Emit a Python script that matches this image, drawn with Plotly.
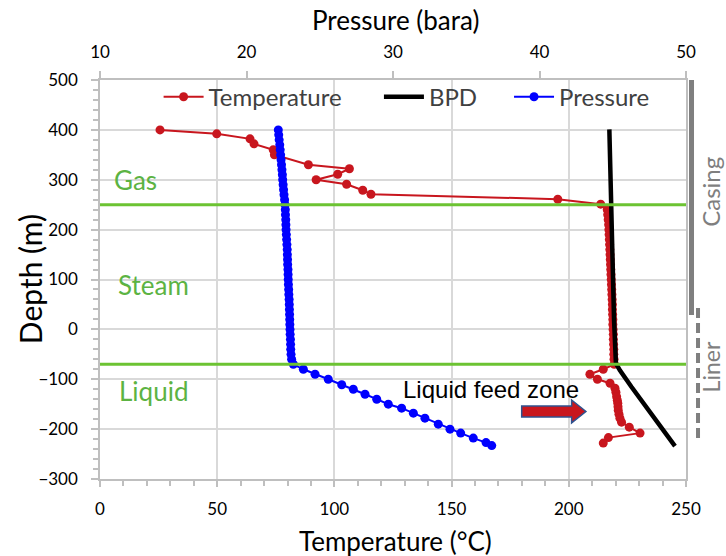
import plotly.graph_objects as go

# ---------------- data ----------------
temp_depth = [400, 392, 382, 372, 360, 350, 330, 322, 311, 300, 291, 279, 271, 261, 251,
              240, 230, 220, 210, 200, 190, 180, 170, 160, 150, 140, 130, 120, 110, 100,
              90, 80, 70, 60, 50, 40, 30, 20, 10, 0, -10, -20, -30, -40, -50, -60, -70,
              -80, -90, -100, -108, -118, -126, -135, -142, -148, -155, -162, -170, -178,
              -186, -196, -208, -217, -228]
temp_c = [25.6, 49.8, 64.0, 65.7, 73.9, 74.4, 88.9, 106.4, 101.4, 92.2, 105.2, 112.1, 115.6, 195.3, 213.6,
          216.4, 216.6, 216.8, 217.0, 217.1, 217.2, 217.3, 217.4, 217.5, 217.6, 217.7, 217.8, 217.9, 218.0, 218.1,
          218.2, 218.3, 218.4, 218.5, 218.6, 218.6, 218.7, 218.8, 218.8, 218.9, 219.0, 219.0, 219.1, 219.2, 219.2,
          219.3, 219.4,
          214.7, 209.0, 212.2, 217.6, 219.7, 220.1, 220.4, 220.7, 220.9, 221.0, 221.1, 221.4, 221.8,
          222.5, 225.8, 230.4, 216.9, 214.7]

bpd_depth = [401, 360, 320, 253, 119, 19, -68, -82, -115, -148, -190, -234]
bpd_c = [217.3, 217.5, 217.8, 218.3, 218.7, 219.3, 220.1, 221.8, 226.7, 231.8, 238.5, 245.3]

pres_depth = [400, 390, 380, 370, 360, 350, 340, 330, 320, 310, 300, 290, 280, 270, 260, 250,
              240, 230, 220, 210, 200, 190, 180, 170, 160, 150, 140, 130, 120, 110, 100,
              90, 80, 70, 60, 50, 40, 30, 20, 10, 0, -10, -20, -30, -40, -50, -60, -70,
              -80, -90, -100, -111, -120, -130, -140, -150, -158, -168, -178, -190, -200,
              -208, -218, -227, -233]
pres_bara = [22.17, 22.20, 22.23, 22.27, 22.30, 22.33, 22.36, 22.39, 22.42, 22.45, 22.47, 22.50, 22.53,
             22.56, 22.60, 22.63, 22.65, 22.66, 22.68, 22.69, 22.70, 22.72, 22.74, 22.76, 22.78, 22.79,
             22.80, 22.81, 22.83, 22.84, 22.85, 22.86, 22.88, 22.89, 22.91, 22.92, 22.93, 22.94, 22.95,
             22.96, 22.97, 22.98, 23.00, 23.01, 23.02, 23.04, 23.08, 23.20,
             23.88, 24.68, 25.58, 26.50, 27.29, 28.09, 28.89, 29.68, 30.59, 31.39, 32.18, 33.09, 33.89,
             34.62, 35.48, 36.35, 36.74]

zone_boundaries = [250, -70]
zone_names = ["Gas", "Steam", "Liquid"]
zone_label_depth = [299, 88, -124]
zone_label_temp = [5.0, 7.0, 7.4]

casing_depth = [500, 29]
liner_depth = [43, -226]

temp_ticks = [0, 50, 100, 150, 200, 250]
pres_ticks = [10, 20, 30, 40, 50]
depth_ticks = [-300, -200, -100, 0, 100, 200, 300, 400, 500]

# ---------------- styling ----------------
RED = "#C8161E"
BLUE = "#0000FF"
GREEN_LINE = "#6CC332"
GREEN_TXT = "#5CB343"
GRID = "#D9D9D9"
AXIS = "#BFBFBF"
GRAY = "#7F7F7F"
FONT = "Lato"

fig = go.Figure()

fig.add_trace(go.Scatter(
    x=temp_c, y=temp_depth, name="Temperature", mode="lines+markers",
    line=dict(color=RED, width=2), marker=dict(color=RED, size=9),
    xaxis="x", yaxis="y", legend="legend"))
fig.add_trace(go.Scatter(
    x=bpd_c, y=bpd_depth, name="BPD", mode="lines",
    line=dict(color="black", width=4.5),
    xaxis="x", yaxis="y", legend="legend2"))
fig.add_trace(go.Scatter(
    x=pres_bara, y=pres_depth, name="Pressure", mode="lines+markers",
    line=dict(color=BLUE, width=2), marker=dict(color=BLUE, size=9),
    xaxis="x2", yaxis="y", legend="legend3"))

shapes = []
# white backdrop behind the legend (hides gridlines there, like the original)
shapes.append(dict(type="rect", xref="paper", yref="paper", x0=0.09, x1=0.96,
                   y0=0.93, y1=0.994, fillcolor="white", line=dict(width=0),
                   layer="between"))
for b in zone_boundaries:
    shapes.append(dict(type="line", xref="paper", yref="y", x0=0, x1=1, y0=b, y1=b,
                       line=dict(color=GREEN_LINE, width=3), layer="above"))
# casing (solid) and liner (dashed) bars
shapes.append(dict(type="line", xref="paper", yref="y", x0=1.0094, x1=1.0094,
                   y0=casing_depth[0], y1=casing_depth[1], line=dict(color=GRAY, width=5)))
shapes.append(dict(type="line", xref="paper", yref="y", x0=1.0205, x1=1.0205,
                   y0=liner_depth[0], y1=liner_depth[1],
                   line=dict(color=GRAY, width=4, dash="10px,5px")))
# feed zone arrow
shapes.append(dict(type="path", xref="x", yref="y",
                   path="M 179.9,-153.6 L 201.2,-153.6 L 201.2,-141.6 L 207.3,-164.6 "
                        "L 201.2,-187.6 L 201.2,-175.7 L 179.9,-175.7 Z",
                   fillcolor="#C8161D", line=dict(color="#2F528F", width=1.5), layer="above"))

annotations = []
for name, d, t in zip(zone_names, zone_label_depth, zone_label_temp):
    annotations.append(dict(text=name, x=t, y=d, xref="x", yref="y", xanchor="left",
                            yanchor="middle", showarrow=False,
                            font=dict(family=FONT, size=26, color=GREEN_TXT)))
annotations.append(dict(text="Liquid feed zone", x=166.8, y=-120, xref="x", yref="y",
                        showarrow=False, xanchor="center", yanchor="middle",
                        font=dict(family="Liberation Sans", size=24, color="black")))
annotations.append(dict(text="Casing", x=1.042, y=275, xref="paper", yref="y",
                        textangle=-90, showarrow=False, xanchor="center", yanchor="middle",
                        font=dict(family=FONT, size=24, color=GRAY)))
annotations.append(dict(text="Liner", x=1.042, y=-75, xref="paper", yref="y",
                        textangle=-90, showarrow=False, xanchor="center", yanchor="middle",
                        font=dict(family=FONT, size=23, color=GRAY)))
# axis titles
annotations.append(dict(text="Depth (m)", x=-0.12, y=0.50, xref="paper", yref="paper",
                        textangle=-90, showarrow=False, xanchor="center", yanchor="middle",
                        font=dict(family=FONT, size=30, color="black")))
annotations.append(dict(text="Temperature (°C)", x=0.504, y=-0.155, xref="paper", yref="paper",
                        showarrow=False, xanchor="center", yanchor="middle",
                        font=dict(family=FONT, size=26, color="black")))
annotations.append(dict(text="Pressure (bara)", x=0.504, y=1.150, xref="paper", yref="paper",
                        showarrow=False, xanchor="center", yanchor="middle",
                        font=dict(family=FONT, size=26, color="black")))

axis_common = dict(showline=True, linecolor=AXIS, linewidth=1.5, ticks="outside",
                   tickcolor=AXIS, tickwidth=1.5, zeroline=False,
                   tickfont=dict(family=FONT, size=17, color="black"))

legend_common = dict(orientation="h", y=0.957, xanchor="left", yanchor="middle",
                     bgcolor="rgba(0,0,0,0)", font=dict(family=FONT, size=24, color="#404040"),
                     itemwidth=40)

fig.update_layout(
    width=726, height=556,
    margin=dict(l=100, r=40, t=80, b=77),
    paper_bgcolor="white", plot_bgcolor="white",
    font=dict(family=FONT, color="black"),
    showlegend=True,
    legend=dict(x=0.100, **legend_common),
    legend2=dict(x=0.476, **legend_common),
    legend3=dict(x=0.698, **legend_common),
    xaxis=dict(range=[0, 250], tickvals=temp_ticks, ticklen=6, showgrid=True,
               gridcolor=GRID, gridwidth=1.5,
               minor=dict(dtick=10, ticks="outside", ticklen=5, tickcolor=AXIS, showgrid=False),
               ticklabelstandoff=8, **axis_common),
    xaxis2=dict(range=[10, 50], tickvals=pres_ticks, overlaying="x", side="top",
                ticklen=7, showgrid=False, anchor="y",
                ticklabelstandoff=6, **axis_common),
    yaxis=dict(range=[-300, 500], tickvals=depth_ticks, ticklen=7, showgrid=True,
               gridcolor=GRID, gridwidth=1.5, mirror=True,
               minor=dict(dtick=20, ticks="outside", ticklen=5, tickcolor=AXIS, showgrid=False),
               ticklabelstandoff=10, **axis_common),
    shapes=shapes,
    annotations=annotations,
)

fig.write_html("out.html")
